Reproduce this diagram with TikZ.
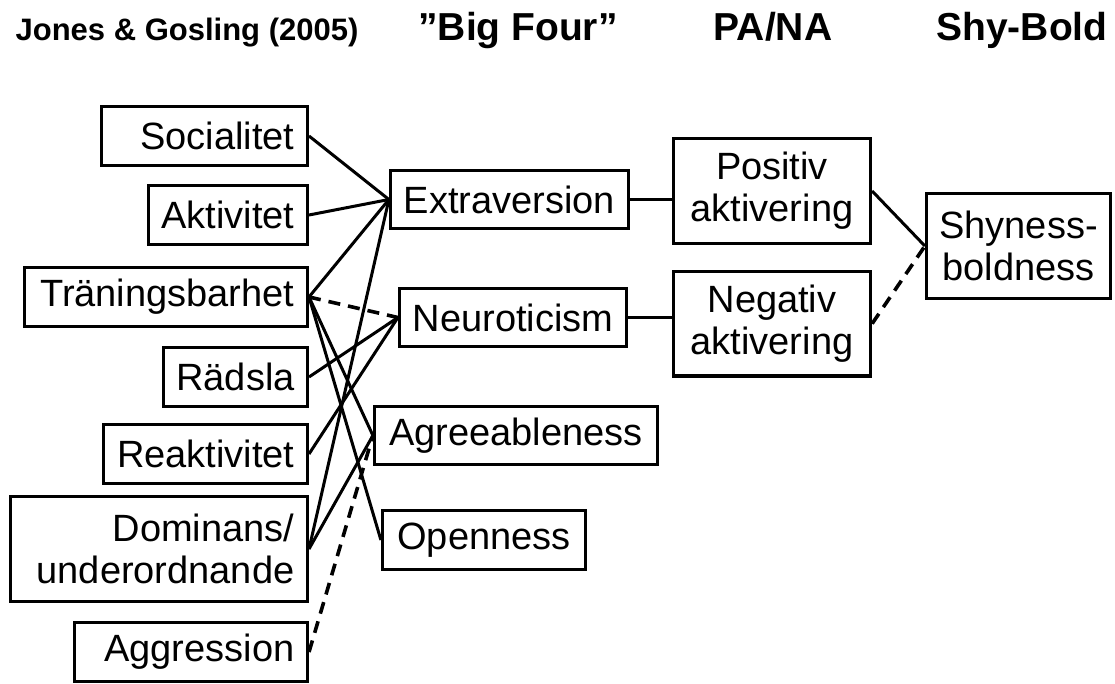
\documentclass[tikz,border=0pt]{standalone}
\usepackage{fontspec}
\setmainfont{Liberation Sans}
\usetikzlibrary{positioning,calc}
\tikzset{
  box/.style={draw=black, line width=3.2pt, fill=white, inner sep=0pt,
    font=\fontsize{38}{42}\selectfont},
  trait/.style={box, anchor=east, align=right, inner xsep=13pt, minimum height=58.5pt},
  factor/.style={box, align=center, minimum height=58.5pt},
  link/.style={draw=black, line width=3pt},
  weak/.style={draw=black, line width=3.6pt, dash pattern=on 12pt off 8pt},
  heading/.style={anchor=base, font=\bfseries\fontsize{39}{39}\selectfont}
}

\begin{document}
\begin{tikzpicture}[x=1pt, y=-1pt]
  \useasboundingbox (0,0) rectangle (1115,684);

  % column headings
  \node[heading, font=\bfseries\fontsize{31}{31}\selectfont] (hjg) at (187,41) {Jones \& Gosling (2005)};
  \node[heading] (hbf) at (518,41) {”Big Four”};
  \node[heading] (hpn) at (773,41) {PA/NA};
  \node[heading] (hsb) at (1022,41) {Shy-Bold};

  % Jones & Gosling dimensions
  \node[trait, text width=180pt] (soc) at (309,136) {Socialitet};
  \node[trait, text width=133pt] (akt) at (309,215) {Aktivitet};
  \node[trait, text width=257pt] (tra) at (309,297) {Träningsbarhet};
  \node[trait, text width=118pt] (rad) at (309,377) {Rädsla};
  \node[trait, text width=178pt] (rea) at (309,454) {Reaktivitet};
  \node[trait, text width=271pt, minimum height=104.5pt] (dom) at (309,549) {Dominans/\\underordnande};
  \node[trait, text width=207pt] (agg) at (309,652) {Aggression};

  % big four
  \node[factor, minimum width=238pt] (ext) at (509.5,199.5) {Extraversion};
  \node[factor, minimum width=227pt] (neu) at (513,317.5) {Neuroticism};
  \node[factor, minimum width=283pt] (agr) at (516,435.5) {Agreeableness};
  \node[factor, minimum width=203pt] (ope) at (484,540) {Openness};

  % PA/NA
  \node[factor, minimum width=197pt, minimum height=104.5pt] (pos) at (772,191) {Positiv\\aktivering};
  \node[factor, minimum width=197pt, minimum height=104.5pt, below=25pt of pos] (neg) {Negativ\\aktivering};

  % shy-bold
  \node[factor, minimum width=184pt, minimum height=104.5pt] (shy) at (1018.5,246) {Shyness-\\boldness};

  % extraversion
  \draw[link] (soc.east) -- (ext.west);
  \draw[link] (akt.east) -- (ext.west);
  \draw[link] (tra.east) -- (ext.west);
  \draw[link] (dom.east) -- (ext.west);
  % neuroticism
  \draw[weak] (tra.east) -- (neu.west);
  \draw[link] (rad.east) -- (neu.west);
  \draw[link] (rea.east) -- (neu.west);
  % agreeableness and openness
  \draw[link] (tra.east) -- (agr.west);
  \draw[link] (dom.east) -- (agr.west);
  \draw[weak] (agg.east) -- (agr.west);
  \draw[link] (tra.east) -- (ope.west);

  \draw[link] (ext.east) -- (ext.east -| pos.west);
  \draw[link] (neu.east) -- (neu.east -| neg.west);
  \draw[link] (pos.east) -- (shy.west);
  \draw[weak] (neg.east) -- (shy.west);

\end{tikzpicture}
\end{document}
